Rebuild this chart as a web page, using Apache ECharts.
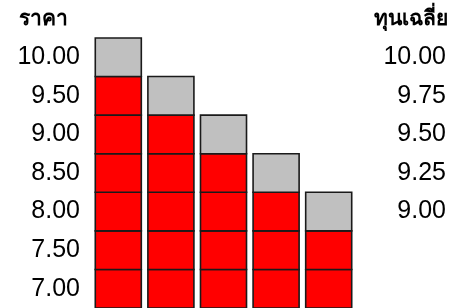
<!DOCTYPE html>
<html>
<head>
<meta charset="utf-8">
<script src="https://cdn.jsdelivr.net/npm/echarts@6/dist/echarts.min.js"></script>
<style>html,body{margin:0;padding:0;background:#fff;}#c{width:457px;height:308px;}</style>
</head>
<body>
<div id="c"></div>
<script>
const columns = ['1', '2', '3', '4', '5'];
const priceLevels = ['7.00', '7.50', '8.00', '8.50', '9.00', '9.50', '10.00'];
const topPrice = ['10.00', '9.50', '9.00', '8.50', '8.00'];
const avgCostLabels = ['', '', '9.00', '9.25', '9.50', '9.75', '10.00'];
const leftTitle = 'ราคา';
const rightTitle = 'ทุนเฉลี่ย';

const cells = [];
columns.forEach((c, i) => {
  const topIdx = priceLevels.indexOf(topPrice[i]);
  for (let j = 0; j <= topIdx; j++) {
    cells.push([i, j, j === topIdx ? 1 : 0]);
  }
});

const FONT = "'Liberation Sans', Arial, sans-serif";
const chart = echarts.init(document.getElementById('c'));
chart.setOption({
  animation: false,
  backgroundColor: '#fff',
  title: [
    { text: leftTitle, left: 14, top: 4, textStyle: { fontSize: 21, fontWeight: 'bold', color: '#000', fontFamily: FONT } },
    { text: rightTitle, right: 4, top: 4, textStyle: { fontSize: 21, fontWeight: 'bold', color: '#000', fontFamily: FONT } }
  ],
  grid: { left: 92, top: 38, width: 263, height: 273 },
  xAxis: {
    type: 'category', data: columns,
    axisLine: { show: false }, axisTick: { show: false }, axisLabel: { show: false }, splitLine: { show: false }
  },
  yAxis: [
    {
      type: 'category', data: priceLevels, position: 'left',
      axisLine: { show: false }, axisTick: { show: false }, splitLine: { show: false },
      axisLabel: { fontSize: 25, color: '#000', margin: 12, fontFamily: FONT }
    },
    {
      type: 'category', data: avgCostLabels, position: 'right',
      axisLine: { show: false }, axisTick: { show: false }, splitLine: { show: false },
      axisLabel: { fontSize: 25, color: '#000', margin: 91, align: 'right', fontFamily: FONT }
    }
  ],
  series: [{
    type: 'custom',
    data: cells,
    clip: false,
    renderItem: function (params, api) {
      const c = api.coord([api.value(0), api.value(1)]);
      const s = api.size([1, 1]);
      const w = s[0] * 0.875, h = s[1];
      return {
        type: 'rect',
        shape: { x: c[0] - w / 2, y: c[1] - h / 2, width: w, height: h },
        style: { fill: api.value(2) === 1 ? '#c0c0c0' : '#ff0000', stroke: '#1a1a1a', lineWidth: 1.6 }
      };
    }
  }]
});
</script>
</body>
</html>
